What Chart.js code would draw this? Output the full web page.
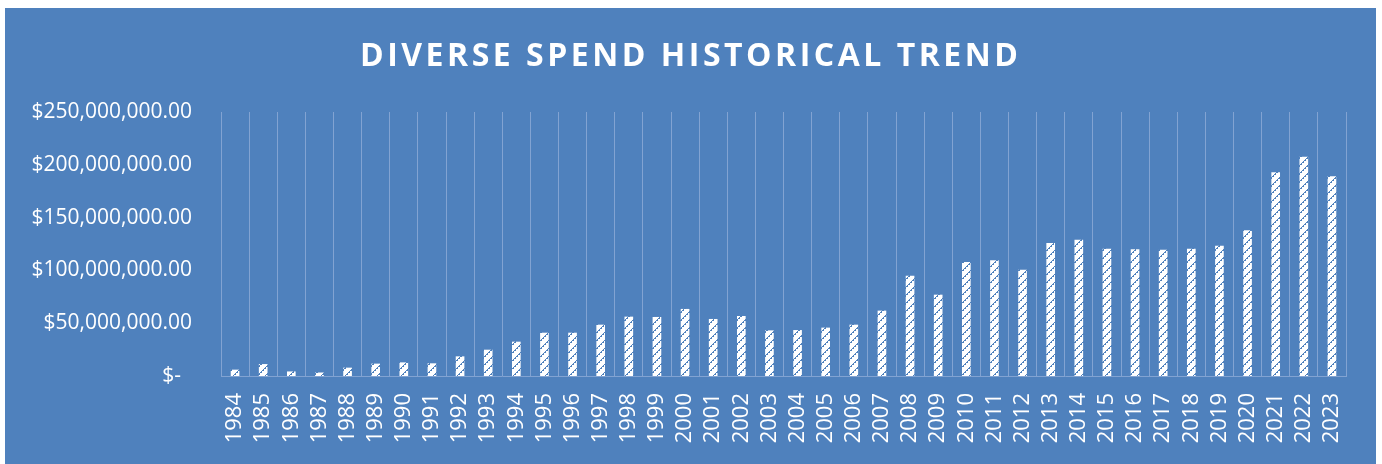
<!DOCTYPE html>
<html>
<head>
<meta charset="utf-8">
<script src="https://cdn.jsdelivr.net/npm/chart.js@4"></script>
<style>
html,body{margin:0;padding:0;background:#fff;}
#wrap{width:1382px;height:464px;position:relative;}
</style>
</head>
<body>
<div id="wrap"><canvas id="c" width="1382" height="464"></canvas></div>
<script>
const years = ["1984","1985","1986","1987","1988","1989","1990","1991","1992","1993","1994","1995","1996","1997","1998","1999","2000","2001","2002","2003","2004","2005","2006","2007","2008","2009","2010","2011","2012","2013","2014","2015","2016","2017","2018","2019","2020","2021","2022","2023"];
const spendMillions = [5.7, 11, 4, 3, 7.6, 11.4, 12.6, 11.7, 18.3, 24.6, 32.2, 40.7, 40.7, 48.3, 55.9, 55.6, 63.2, 53.7, 56.5, 42.9, 43.2, 45.5, 48.3, 61.6, 94.7, 76.7, 107.7, 109.2, 100.4, 125.7, 128.8, 120.3, 119.6, 119.3, 120.3, 123.1, 137.6, 192.6, 207.4, 188.8];
const spend = spendMillions.map(v => v * 1e6);
const yTicks = [0, 50e6, 100e6, 150e6, 200e6, 250e6];
const titleText = "DIVERSE SPEND HISTORICAL TREND";

const BG = '#4F81BD';
const GRID = '#82a3d2';

function makePattern() {
  const p = document.createElement('canvas');
  p.width = 8; p.height = 8;
  const g = p.getContext('2d');
  g.fillStyle = '#ffffff';
  g.fillRect(0, 0, 8, 8);
  g.fillStyle = BG;
  for (let y = 0; y < 8; y++) {
    for (let x = 0; x < 8; x++) {
      const d = (x + y) % 8;
      if (d === 0 || (d === 1 && y % 2 === 0)) g.fillRect(x, y, 1, 1);
    }
  }
  return document.getElementById('c').getContext('2d').createPattern(p, 'repeat');
}

const bgPlugin = {
  id: 'bg',
  beforeDraw(chart) {
    const ctx = chart.ctx;
    ctx.save();
    ctx.fillStyle = '#ffffff';
    ctx.fillRect(0, 0, chart.width, chart.height);
    ctx.fillStyle = BG;
    ctx.fillRect(5, 8, 1371, 456);
    ctx.restore();
  }
};

const titlePlugin = {
  id: 'spacedTitle',
  afterDraw(chart) {
    const ctx = chart.ctx;
    ctx.save();
    ctx.font = 'bold 32px "Open Sans"';
    ctx.fillStyle = '#ffffff';
    ctx.textBaseline = 'alphabetic';
    ctx.textAlign = 'left';
    const natural = ctx.measureText(titleText).width;
    const target = 658;
    const sp = Math.max(0, (target - natural) / (titleText.length - 1));
    ctx.letterSpacing = sp + 'px';
    const cx = 689;
    ctx.fillText(titleText, cx - target / 2, 66);
    ctx.restore();
  }
};

new Chart(document.getElementById('c'), {
  type: 'bar',
  data: {
    labels: years,
    datasets: [{
      data: spend,
      backgroundColor: makePattern(),
      borderWidth: 0,
      barThickness: 8
    }]
  },
  options: {
    responsive: false,
    animation: false,
    devicePixelRatio: 1,
    layout: { padding: { top: 112, right: 36, bottom: 0, left: 0 } },
    plugins: {
      legend: { display: false },
      title: { display: false },
      tooltip: { enabled: false }
    },
    scales: {
      x: {
        grid: { display: true, color: GRID, lineWidth: 1, drawTicks: false, offset: true },
        border: { display: true, color: GRID, width: 1 },
        ticks: {
          color: '#ffffff',
          font: { family: '"Open Sans"', size: 22 },
          maxRotation: 90, minRotation: 90,
          autoSkip: false,
          padding: 17
        },
        afterFit(scale) { scale.height = 88; }
      },
      y: {
        min: 0, max: 250e6,
        afterBuildTicks(scale) { scale.ticks = yTicks.map(v => ({ value: v })); },
        grid: { display: false, drawTicks: false },
        border: { display: false },
        ticks: {
          color: '#ffffff',
          font: { family: '"Open Sans"', size: 21 },
          padding: 29,
          callback(v) {
            if (v === 0) return '$-  ';
            return '$' + Number(v).toLocaleString('en-US', { minimumFractionDigits: 2, maximumFractionDigits: 2 });
          }
        },
        afterFit(scale) { scale.width = 221; }
      }
    }
  },
  plugins: [bgPlugin, titlePlugin]
});
</script>
</body>
</html>
